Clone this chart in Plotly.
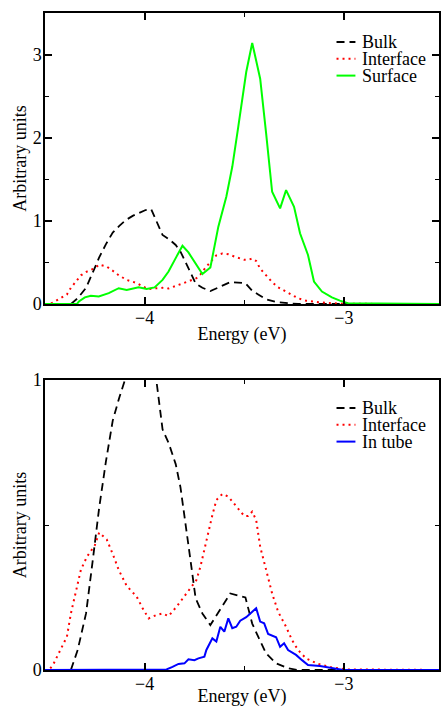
import plotly.graph_objects as go

# ---------------- data ----------------
bulk_E = [-4.5, -4.37, -4.336, -4.294, -4.26, -4.228, -4.194, -4.16, -4.127, -4.094, -4.06,
          -4.027, -3.995, -3.967, -3.91, -3.878, -3.844, -3.82, -3.79, -3.77, -3.744, -3.71,
          -3.67, -3.62, -3.57, -3.494, -3.46, -3.43, -3.39, -3.34, -3.28, -3.23, -2.5]
bulk_v = [0, 0, 0.069, 0.195, 0.38, 0.56, 0.72, 0.86, 0.94, 1.01, 1.06,
          1.10, 1.13, 1.14, 0.83, 0.78, 0.71, 0.63, 0.49, 0.38, 0.247, 0.195,
          0.155, 0.21, 0.264, 0.25, 0.16, 0.115, 0.057, 0.023, 0.006, 0, 0]

iface_E = [-4.5, -4.48, -4.46, -4.43, -4.39, -4.37, -4.34, -4.32, -4.29, -4.25, -4.228,
           -4.19, -4.16, -4.13, -4.09, -4.04, -4.01, -3.98, -3.94, -3.91, -3.88, -3.84,
           -3.79, -3.74, -3.72, -3.69, -3.66, -3.64, -3.61, -3.58, -3.54, -3.50, -3.48,
           -3.46, -3.44, -3.42, -3.39, -3.36, -3.33, -3.29, -3.26, -3.23, -3.19, -3.13,
           -3.06, -2.99, -2.5]
iface_v = [0, 0, 0.017, 0.057, 0.115, 0.195, 0.29, 0.345, 0.39, 0.43, 0.474,
           0.45, 0.40, 0.345, 0.29, 0.253, 0.213, 0.178, 0.19, 0.195, 0.186, 0.218,
           0.264, 0.31, 0.356, 0.45, 0.534, 0.586, 0.607, 0.598, 0.563, 0.531, 0.531,
           0.546, 0.517, 0.425, 0.345, 0.264, 0.201, 0.149, 0.103, 0.069, 0.040, 0.021,
           0.009, 0.002, 0]

surf_E = [-4.5, -4.34, -4.33, -4.30, -4.27, -4.23, -4.18, -4.13, -4.09, -4.03, -3.99,
          -3.95, -3.91, -3.88, -3.84, -3.81, -3.78, -3.74, -3.71, -3.67, -3.63, -3.59,
          -3.56, -3.53, -3.49, -3.46, -3.42, -3.39, -3.36, -3.32, -3.29, -3.25, -3.22,
          -3.18, -3.15, -3.11, -3.06, -3.02, -2.98, -2.5]
surf_v = [0, 0, 0.03, 0.08, 0.10, 0.09, 0.13, 0.19, 0.17, 0.20, 0.18,
          0.20, 0.29, 0.39, 0.57, 0.70, 0.62, 0.48, 0.36, 0.44, 0.93, 1.29,
          1.65, 2.13, 2.79, 3.14, 2.71, 2.05, 1.35, 1.15, 1.37, 1.17, 0.85,
          0.59, 0.27, 0.15, 0.08, 0.04, 0.01, 0]

tube_E = [-4.5, -3.93, -3.89, -3.86, -3.83, -3.80, -3.78, -3.75, -3.73, -3.70, -3.69,
          -3.66, -3.64, -3.62, -3.60, -3.58, -3.56, -3.54, -3.52, -3.49, -3.47, -3.44,
          -3.42, -3.40, -3.38, -3.35, -3.34, -3.32, -3.30, -3.28, -3.24, -3.21, -3.18,
          -3.12, -3.06, -3.01, -2.5]
tube_v = [0, 0, 0.002, 0.011, 0.021, 0.023, 0.037, 0.034, 0.040, 0.046, 0.069,
          0.109, 0.098, 0.149, 0.132, 0.178, 0.144, 0.149, 0.170, 0.182, 0.195, 0.213,
          0.167, 0.161, 0.124, 0.117, 0.113, 0.080, 0.092, 0.069, 0.052, 0.034, 0.017,
          0.014, 0.006, 0.001, 0]

x_ticks = [-4, -3]
top_y_ticks = [0, 1, 2, 3]
bot_y_ticks = [0, 1]

# ---------------- styles ----------------
FONT = "Liberation Serif"
FS = 18
W, H = 441, 707
ML, MR, MT, MB = 45, 0, 13, 37
PW, PH = W - ML - MR, H - MT - MB

def px_x(x):
    return (x - ML) / PW

def px_y(y):
    return (H - MB - y) / PH

BULK = dict(color="black", width=1.8, dash="8px,5px")
IFACE = dict(color="#ff0000", width=2, dash="2px,4px")
SURF = dict(color="#00ff00", width=2)
TUBE = dict(color="#0000ff", width=2)

fig = go.Figure()
fig.add_trace(go.Scatter(x=bulk_E, y=bulk_v, mode="lines", line=BULK, xaxis="x", yaxis="y", showlegend=False))
fig.add_trace(go.Scatter(x=iface_E, y=iface_v, mode="lines", line=IFACE, xaxis="x", yaxis="y", showlegend=False))
fig.add_trace(go.Scatter(x=surf_E, y=surf_v, mode="lines", line=SURF, xaxis="x", yaxis="y", showlegend=False))

fig.add_trace(go.Scatter(x=bulk_E, y=bulk_v, mode="lines", line=BULK, xaxis="x2", yaxis="y2", showlegend=False))
fig.add_trace(go.Scatter(x=iface_E, y=iface_v, mode="lines", line=IFACE, xaxis="x2", yaxis="y2", showlegend=False))
fig.add_trace(go.Scatter(x=tube_E, y=tube_v, mode="lines", line=TUBE, xaxis="x2", yaxis="y2", showlegend=False))

xr = [-4.5, -4.5 + PW / 200.25]
top_dom = [px_y(304), 1.0]
bot_dom = [0.0, px_y(380)]

common_x = dict(range=xr, tickvals=x_ticks, ticks="inside", ticklen=7, tickwidth=1.5,
                showline=True, linewidth=1.5, linecolor="black", mirror="allticks",
                showgrid=False, zeroline=False, tickcolor="black", ticklabelstandoff=-3,
                minor=dict(dtick=0.5, tick0=-4, ticks="inside", ticklen=4, tickwidth=1.2, tickcolor="black"),
                tickfont=dict(family=FONT, size=FS, color="black"),
                title=dict(text="Energy (eV)", font=dict(family=FONT, size=FS, color="black"), standoff=0))
common_y = dict(ticks="inside", ticklen=7, tickwidth=1.5, showline=True, linewidth=1.5,
                linecolor="black", mirror="allticks", showgrid=False, zeroline=False, tickcolor="black",
                ticklabelstandoff=-2,
                minor=dict(dtick=0.5, ticks="inside", ticklen=4, tickwidth=1.2, tickcolor="black"),
                tickfont=dict(family=FONT, size=FS, color="black"),
                title=dict(text="Arbitrary units", font=dict(family=FONT, size=FS, color="black"), standoff=1))

fig.update_layout(
    width=W, height=H,
    font=dict(family=FONT, size=FS, color="black"),
    margin=dict(l=ML, r=MR, t=MT, b=MB, pad=0),
    paper_bgcolor="white", plot_bgcolor="white",
    xaxis=dict(domain=[0, 1], anchor="y", **common_x),
    yaxis=dict(domain=top_dom, anchor="x", range=[0, 3.5], tickvals=top_y_ticks, **common_y),
    xaxis2=dict(domain=[0, 1], anchor="y2", **common_x),
    yaxis2=dict(domain=bot_dom, anchor="x2", range=[0, 1], tickvals=bot_y_ticks, **common_y),
    showlegend=False,
)

# manual legends (xmgrace style, tight rows)
def legend(rows, y0):
    for i, (name, style) in enumerate(rows):
        yy = px_y(y0 + i * 16.8)
        fig.add_shape(type="line", xref="paper", yref="paper",
                      x0=px_x(338), x1=px_x(357), y0=yy, y1=yy,
                      line=dict(color=style["color"], width=style["width"], dash=style.get("dash", "solid")))
        fig.add_annotation(xref="paper", yref="paper", x=px_x(362), y=yy, text=name,
                           showarrow=False, xanchor="left", yanchor="middle",
                           font=dict(family=FONT, size=FS, color="black"))

legend([("Bulk", BULK), ("Interface", IFACE), ("Surface", SURF)], 42)
legend([("Bulk", BULK), ("Interface", IFACE), ("In tube", TUBE)], 408)

fig.write_html("out.html")
